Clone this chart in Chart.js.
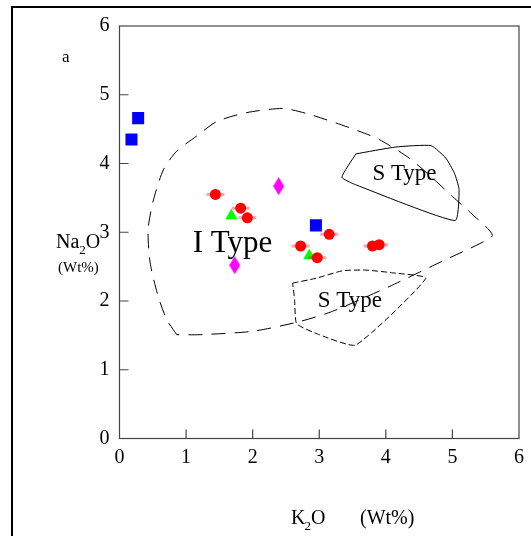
<!DOCTYPE html>
<html>
<head>
<meta charset="utf-8">
<script src="https://cdn.jsdelivr.net/npm/chart.js@4.4.0/dist/chart.umd.min.js"></script>
<style>
  html, body { margin: 0; padding: 0; background: #fff; }
  #wrap { width: 531px; height: 536px; }
</style>
</head>
<body>
<div id="wrap"><canvas id="myChart" width="531" height="536"></canvas></div>
<script>
// sample points, [K2O, Na2O] in Wt%
const bluePoints = [[0.28, 4.66], [0.18, 4.35], [2.95, 3.10]];
const redPoints = [[1.44, 3.55], [1.82, 3.35], [1.92, 3.21], [2.72, 2.80],
    [3.15, 2.97], [2.97, 2.63], [3.80, 2.80], [3.90, 2.82]];
const greenPoints = [[1.68, 3.24], [2.85, 2.66]];
const magentaPoints = [[2.39, 3.67], [1.73, 2.52]];

// field boundaries
const iTypeField = [[0.86, 1.51], [0.71, 1.73], [0.58, 2.07], [0.46, 2.56], [0.43, 3.04],
    [0.51, 3.47], [0.66, 3.91], [0.86, 4.18], [1.16, 4.40], [1.46, 4.61], [1.91, 4.74],
    [2.45, 4.80], [2.80, 4.73], [3.25, 4.59], [3.68, 4.44], [3.90, 4.35], [4.35, 4.08],
    [4.70, 3.79], [5.00, 3.52], [5.30, 3.26], [5.60, 2.96], [5.40, 2.83], [4.85, 2.58],
    [4.05, 2.21], [3.20, 1.85], [2.70, 1.70], [2.00, 1.56], [1.21, 1.51], [0.86, 1.51]];
const sTypeUpper = [[3.55, 4.14], [4.15, 4.24], [4.68, 4.26], [4.90, 4.08], [5.03, 3.86],
    [5.10, 3.62], [5.04, 3.17], [3.55, 3.69], [3.34, 3.80], [3.55, 4.14]];
const sTypeLower = [[2.60, 2.26], [2.95, 2.33], [3.35, 2.44], [3.70, 2.45], [4.10, 2.41],
    [4.60, 2.33], [3.55, 1.36], [3.00, 1.51], [2.66, 1.67], [2.63, 2.02], [2.60, 2.26]];

const tickValues = [0, 1, 2, 3, 4, 5, 6];
const fieldLabels = [
    { text: 'I Type', x: 1.10, y: 2.72, size: 31, align: 'left' },
    { text: 'S Type', x: 4.28, y: 3.76, size: 23, align: 'center' },
    { text: 'S Type', x: 3.46, y: 1.92, size: 23, align: 'center' }
];

const SERIF = "'Liberation Serif', 'Times New Roman', serif";

const toXY = (arr) => arr.map(p => ({ x: p[0], y: p[1] }));

// tall diamond marker
const diamond = document.createElement('canvas');
diamond.width = 11;
diamond.height = 18;
let dctx = diamond.getContext('2d');
dctx.fillStyle = '#ff00ff';
dctx.beginPath();
dctx.moveTo(5.5, 0);
dctx.lineTo(11, 9);
dctx.lineTo(5.5, 18);
dctx.lineTo(0, 9);
dctx.closePath();
dctx.fill();

const decorPlugin = {
    id: 'decor',
    beforeDatasetsDraw(chart) {
        const { ctx, chartArea, scales } = chart;
        ctx.save();
        // plot box
        ctx.strokeStyle = '#444';
        ctx.lineWidth = 1.2;
        ctx.strokeRect(chartArea.left, chartArea.top, chartArea.right - chartArea.left, chartArea.bottom - chartArea.top);
        // inward ticks
        ctx.beginPath();
        tickValues.slice(1, -1).forEach(v => {
            const px = scales.x.getPixelForValue(v);
            ctx.moveTo(px, chartArea.bottom);
            ctx.lineTo(px, chartArea.bottom - 9);
            const py = scales.y.getPixelForValue(v);
            ctx.moveTo(chartArea.left, py);
            ctx.lineTo(chartArea.left + 9, py);
        });
        ctx.stroke();
        ctx.restore();
    },
    afterDraw(chart) {
        const { ctx, scales } = chart;
        ctx.save();
        // outer frame
        ctx.strokeStyle = '#000';
        ctx.lineWidth = 2;
        ctx.strokeRect(12, 7, 700, 700);

        ctx.fillStyle = '#000';
        ctx.textBaseline = 'alphabetic';
        fieldLabels.forEach(l => {
            ctx.font = l.size + 'px ' + SERIF;
            ctx.textAlign = l.align;
            ctx.fillText(l.text, scales.x.getPixelForValue(l.x), scales.y.getPixelForValue(l.y));
        });

        ctx.textAlign = 'left';
        ctx.font = '17px ' + SERIF;
        ctx.fillText('a', 62, 62);

        // y title
        ctx.font = '20px ' + SERIF;
        let x = 56;
        ctx.fillText('Na', x, 248);
        x += ctx.measureText('Na').width;
        ctx.font = '13px ' + SERIF;
        ctx.fillText('2', x, 254);
        x += ctx.measureText('2').width;
        ctx.font = '20px ' + SERIF;
        ctx.fillText('O', x, 248);
        ctx.font = '15px ' + SERIF;
        ctx.fillText('(Wt%)', 58, 272);

        // x title
        ctx.font = '20px ' + SERIF;
        x = 291;
        ctx.fillText('K', x, 524);
        x += ctx.measureText('K').width - 1;
        ctx.font = '13px ' + SERIF;
        ctx.fillText('2', x, 530);
        x += ctx.measureText('2').width;
        ctx.font = '20px ' + SERIF;
        ctx.fillText('O', x, 524);
        ctx.fillText('(Wt%)', 360, 524);
        ctx.restore();
    }
};

let ctx = document.getElementById('myChart').getContext('2d');

new Chart(ctx, {
    type: 'scatter',
    data: {
        datasets: [
            {
                label: 'I type field',
                data: toXY(iTypeField),
                showLine: true,
                borderColor: '#000',
                borderWidth: 1,
                borderDash: [14, 9],
                pointRadius: 0,
                tension: 0.25
            },
            {
                label: 'S type field',
                data: toXY(sTypeUpper),
                showLine: true,
                borderColor: '#000',
                borderWidth: 1,
                pointRadius: 0,
                tension: 0.15
            },
            {
                label: 'S type field (dashed)',
                data: toXY(sTypeLower),
                showLine: true,
                borderColor: '#000',
                borderWidth: 1,
                borderDash: [6, 3],
                pointRadius: 0,
                tension: 0.15
            },
            {
                label: 'red halo',
                data: toXY(redPoints),
                pointStyle: 'line',
                pointRadius: 9,
                borderColor: 'rgba(255, 0, 0, 0.35)',
                borderWidth: 3
            },
            {
                label: 'red',
                data: toXY(redPoints),
                pointStyle: 'circle',
                pointRadius: 5.5,
                backgroundColor: '#ff0000',
                borderColor: '#ff0000',
                borderWidth: 0
            },
            {
                label: 'blue',
                data: toXY(bluePoints),
                pointStyle: 'rect',
                pointRadius: 8.5,
                backgroundColor: '#0000ff',
                borderWidth: 0
            },
            {
                label: 'green',
                data: toXY(greenPoints),
                pointStyle: 'triangle',
                pointRadius: 7,
                backgroundColor: '#00ff00',
                borderWidth: 0
            },
            {
                label: 'magenta',
                data: toXY(magentaPoints),
                pointStyle: diamond
            }
        ]
    },
    options: {
        responsive: false,
        animation: false,
        layout: { padding: { left: 0, top: 26, right: 10, bottom: 0 } },
        plugins: {
            legend: { display: false },
            tooltip: { enabled: false }
        },
        scales: {
            x: {
                type: 'linear',
                min: 0,
                max: 6,
                afterFit: (scale) => { scale.height = 97.5; },
                afterBuildTicks: (scale) => { scale.ticks = tickValues.map(v => ({ value: v })); },
                grid: { display: false, drawTicks: false },
                border: { display: false },
                ticks: { padding: 7, color: '#000', font: { family: SERIF, size: 20 } }
            },
            y: {
                type: 'linear',
                min: 0,
                max: 6,
                afterFit: (scale) => { scale.width = 119.5; },
                afterBuildTicks: (scale) => { scale.ticks = tickValues.map(v => ({ value: v })); },
                grid: { display: false, drawTicks: false },
                border: { display: false },
                ticks: { padding: 10, color: '#000', font: { family: SERIF, size: 20 } }
            }
        }
    },
    plugins: [decorPlugin]
});
</script>
</body>
</html>
